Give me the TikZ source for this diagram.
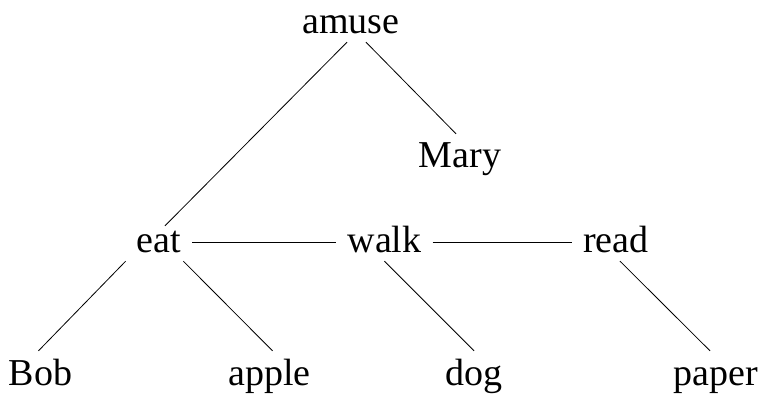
\documentclass[tikz,border=0pt]{standalone}
\usepackage{fontspec}
\setmainfont{Liberation Serif}
\usetikzlibrary{positioning}

\begin{document}
\begin{tikzpicture}[
  x=1pt, y=1pt,
  font=\fontsize{38}{44}\selectfont,
  word/.style={inner xsep=11pt, inner ysep=7pt, text height=27pt,
               text depth=1pt, anchor=base},
  link/.style={line width=0.8pt, black},
]
\useasboundingbox (0,0) rectangle (762,396);
% top
\node[word] (amuse) at (351,362) {amuse};
\node[word] (mary) at (460,228) {Mary};
% middle row
\node[word] (eat) at (159,143) {eat};
\node[word] (walk) at (384.5,143) {walk};
\node[word] (read) at (616,143) {read};
% bottom row
\node[word] (bob) at (40.5,11) {Bob};
\node[word] (apple) at (269.5,11) {apple};
\node[word] (dog) at (474,11) {dog};
\node[word] (paper) at (716,11) {paper};
% links
\draw[link] ([xshift=-4pt]amuse.south) -- ([xshift=6pt, yshift=-7pt]eat.north);
\draw[link] ([xshift=15pt]amuse.south) -- ([xshift=-4pt]mary.north);
\draw[link] ([yshift=-2pt]eat.east) -- ([yshift=-2pt]walk.west);
\draw[link] ([yshift=-2pt]walk.east) -- ([yshift=-2pt]read.west);
\draw[link] (eat.south west) -- ([xshift=-2pt]bob.north);
\draw[link] ([xshift=-9pt]eat.south east) -- ([xshift=3pt]apple.north);
\draw[link] (walk.south) -- (dog.north);
\draw[link] ([xshift=4pt]read.south) -- ([xshift=-6pt]paper.north);
\end{tikzpicture}
\end{document}
